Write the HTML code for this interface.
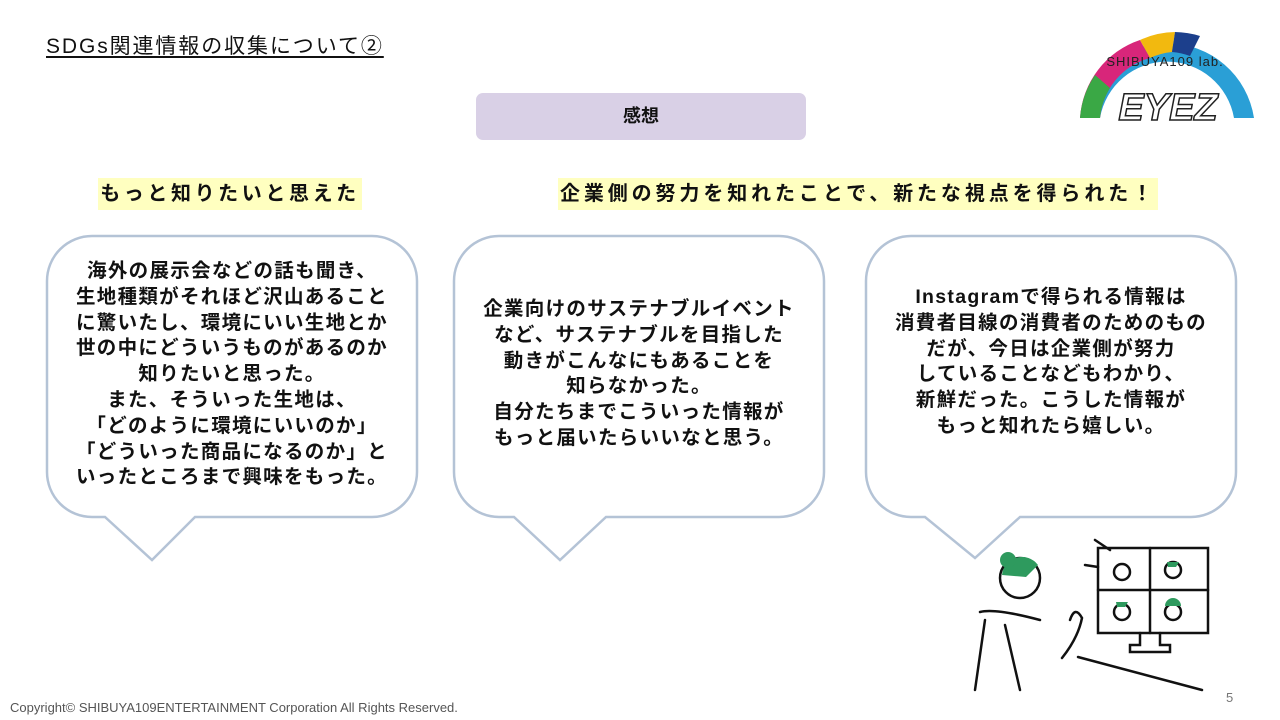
<!DOCTYPE html>
<html><head><meta charset="utf-8"><style>
body{margin:0;width:1280px;height:720px;background:#fff;position:relative;overflow:hidden;font-family:"Liberation Sans","Noto Sans CJK JP",sans-serif;color:#111}
.a{position:absolute}
.t{font-weight:bold;font-size:19.5px;line-height:25.8px;text-align:center;letter-spacing:1.3px}
</style></head><body>
<div class="a" style="left:46px;top:30px;font-size:21px;letter-spacing:1.9px;text-decoration:underline;text-underline-offset:3px">SDGs関連情報の収集について②</div>
<div class="a" style="left:476px;top:93px;width:330px;height:47px;background:#d9d0e6;border-radius:7px;font-weight:bold;font-size:18px;line-height:47px;text-align:center">感想</div>
<div class="a" style="left:98px;top:178px;width:264px;height:32px;background:#ffffc0;font-weight:bold;font-size:20px;line-height:32px;text-align:center;letter-spacing:3.6px">もっと知りたいと思えた</div>
<div class="a" style="left:558px;top:178px;width:600px;height:32px;background:#ffffc0;font-weight:bold;font-size:20px;line-height:32px;text-align:center;letter-spacing:3.9px">企業側の努力を知れたことで、新たな視点を得られた！</div>
<svg class="a" style="left:0;top:0" width="1280" height="720">
<g fill="#fff" stroke="#b4c3d6" stroke-width="2.5">
<path d="M92,236 H372 A45,45 0 0 1 417,281 V472 A45,45 0 0 1 372,517 H195 L152,560 L105,517 H92 A45,45 0 0 1 47,472 V281 A45,45 0 0 1 92,236 Z"/>
<path d="M499,236 H779 A45,45 0 0 1 824,281 V472 A45,45 0 0 1 779,517 H606 L560,560 L514,517 H499 A45,45 0 0 1 454,472 V281 A45,45 0 0 1 499,236 Z"/>
<path d="M911,236 H1191 A45,45 0 0 1 1236,281 V472 A45,45 0 0 1 1191,517 H1020 L975,558 L925,517 H911 A45,45 0 0 1 866,472 V281 A45,45 0 0 1 911,236 Z"/>
</g>
<g fill="none" stroke="#111" stroke-width="2.5" stroke-linecap="round">
<rect x="1098" y="548" width="110" height="85"/>
<line x1="1150" y1="548" x2="1150" y2="633"/><line x1="1098" y1="590" x2="1208" y2="590"/>
<path d="M1140,633 V645 H1130 V652 H1170 V645 H1160 V633"/>
<line x1="1078" y1="657" x2="1202" y2="690"/>
<path d="M985,620 L975,690 M1005,625 L1020,690 M980,612 Q995,608 1040,620"/>
<circle cx="1020" cy="578" r="20"/>
<path d="M1070,620 q5,-15 12,-2 q-4,20 -20,40"/>
<circle cx="1122" cy="572" r="8"/><circle cx="1173" cy="570" r="8"/><circle cx="1122" cy="612" r="8"/><circle cx="1173" cy="612" r="8"/>
<line x1="1095" y1="540" x2="1110" y2="550"/><line x1="1085" y1="565" x2="1098" y2="567"/>
</g>
<g fill="#2e9a5e"><path d="M1002,575 a20,20 0 0 1 36,-10 l-12,12 z"/><circle cx="1008" cy="560" r="8"/><path d="M1116,602 h12 l-3,5 h-8z"/><path d="M1167,562 h12 l-3,5 h-8z"/><path d="M1165,606 a8,8 0 0 1 16,0 z"/></g>
<g>
<path d="M1080,118 A88,88 0 0 1 1254,118 L1234,118 A68,68 0 0 0 1100,118 Z" fill="#2a9fd6"/>
<path d="M1080,118 A88,88 0 0 1 1140,40 L1150,58 A68,68 0 0 0 1100,118Z" fill="#d8267a"/>
<path d="M1140,40 A88,88 0 0 1 1175,32 L1172,52 A68,68 0 0 0 1150,58Z" fill="#f2b90f"/>
<path d="M1175,32 A88,88 0 0 1 1200,36 L1190,56 A68,68 0 0 0 1172,52Z" fill="#1c3f8c"/>
<path d="M1080,118 A88,88 0 0 1 1095,75 L1110,88 A68,68 0 0 0 1100,118Z" fill="#3aa845"/>
</g>
<text x="1168" y="120" text-anchor="middle" font-family="Liberation Sans" font-weight="bold" font-style="italic" font-size="38" fill="#fff" stroke="#222" stroke-width="1.5">EYEZ</text>
<text x="1165" y="66" text-anchor="middle" font-family="Liberation Sans" font-size="13" fill="#222" letter-spacing="1">SHIBUYA109 lab.</text>
</svg>
<div class="a t" style="left:47px;top:259px;width:370px">海外の展示会などの話も聞き、<br>生地種類がそれほど沢山あること<br>に驚いたし、環境にいい生地とか<br>世の中にどういうものがあるのか<br>知りたいと思った。<br>また、そういった生地は、<br>「どのように環境にいいのか」<br>「どういった商品になるのか」と<br>いったところまで興味をもった。</div>
<div class="a t" style="left:454px;top:297px;width:370px">企業向けのサステナブルイベント<br>など、サステナブルを目指した<br>動きがこんなにもあることを<br>知らなかった。<br>自分たちまでこういった情報が<br>もっと届いたらいいなと思う。</div>
<div class="a t" style="left:866px;top:285px;width:370px">Instagramで得られる情報は<br>消費者目線の消費者のためのもの<br>だが、今日は企業側が努力<br>していることなどもわかり、<br>新鮮だった。こうした情報が<br>もっと知れたら嬉しい。</div>
<div class="a" style="left:10px;top:700px;font-size:13px;color:#555">Copyright© SHIBUYA109ENTERTAINMENT Corporation All Rights Reserved.</div>
<div class="a" style="left:1226px;top:690px;font-size:13px;color:#777">5</div>
</body></html>
